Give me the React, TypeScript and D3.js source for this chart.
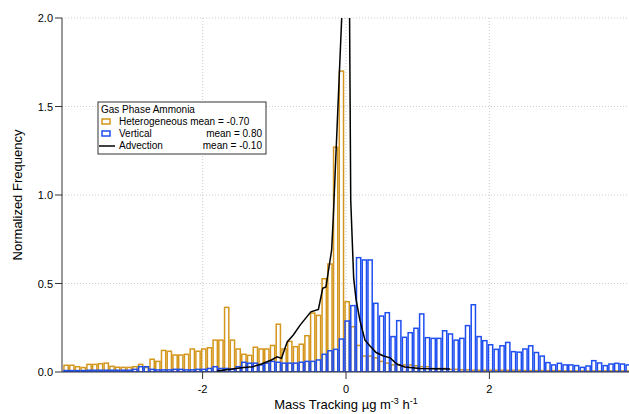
import React from "react";
import * as d3 from "d3";

const binStart = -3.944;
const binWidth = 0.08;
const hetero = [0.038,0.038,0.03,0.025,0.043,0.043,0.047,0.05,0.032,0.027,0.026,0.026,0.03,0.043,0.025,0.072,0.06,0.122,0.117,0.096,0.096,0.1,0.13,0.117,0.13,0.137,0.18,0.18,0.365,0.18,0.13,0.1,0.094,0.14,0.13,0.13,0.15,0.27,0.13,0.173,0.143,0.157,0.205,0.333,0.32,0.527,0.61,1.27,1.7,0.397,0.256,0.15,0.09,0.09,0.08,0.06,0.05,0.04,0.04,0.04,0.04,0.035,0.03,0.03,0.02,0.02,0.02,0.015,0.015,0.012,0.012,0.01,0.01,0.01,0.01,0.01,0.01,0.01,0.01,0.01,0.008,0.008,0.008,0.008,0.008,0.008,0.008,0.006,0.006,0.006,0.006,0.006,0.006,0.006,0.006,0.006,0.006,0.006,0.006];
const vertical = [0.008,0.008,0.008,0.008,0.01,0.01,0.01,0.01,0.01,0.01,0.01,0.01,0.015,0.03,0.03,0.015,0.012,0.012,0.012,0.015,0.015,0.012,0.012,0.015,0.015,0.02,0.03,0.02,0.02,0.015,0.03,0.055,0.05,0.05,0.04,0.05,0.06,0.055,0.05,0.05,0.05,0.055,0.06,0.06,0.068,0.1,0.12,0.128,0.186,0.288,0.375,0.646,0.633,0.633,0.388,0.316,0.335,0.2,0.29,0.196,0.222,0.247,0.328,0.194,0.19,0.19,0.233,0.215,0.18,0.19,0.262,0.38,0.2,0.177,0.154,0.128,0.148,0.167,0.115,0.112,0.13,0.148,0.11,0.09,0.053,0.04,0.049,0.04,0.04,0.036,0.026,0.034,0.064,0.051,0.036,0.045,0.049,0.045,0.04];
const advX = [-1.8,-1.43,-1.3,-1.18,-1.04,-0.96,-0.9,-0.82,-0.735,-0.64,-0.55,-0.49,-0.385,-0.325,-0.28,-0.2,-0.177,-0.06,0.0,0.05,0.066,0.107,0.14,0.195,0.265,0.335,0.42,0.515,0.615,0.71,0.82,1.03,1.45];
const advY = [0.005,0.026,0.03,0.045,0.068,0.086,0.077,0.17,0.209,0.265,0.31,0.34,0.354,0.473,0.48,0.69,0.877,2.0,2.6,2.0,0.97,0.53,0.41,0.29,0.18,0.147,0.11,0.092,0.08,0.045,0.028,0.02,0.017];
const xTicks = [-2, 0, 2];
const yTicks = [0, 0.5, 1, 1.5, 2];

const W = 629, H = 414;
const L = 62, R = 629, T = 18, B = 372;
const ORANGE = "#D4961C", BLUE = "#1F4FEF";
const font = "Liberation Sans, Arial, sans-serif";

export default function App() {
  const x = d3.scaleLinear().domain([(L - 346) / 71.7, (R - 346) / 71.7]).range([L, R]);
  const y = d3.scaleLinear().domain([0, 2]).range([B, T]);
  const line = d3.line<number>().x((_, i) => x(advX[i])).y((d) => y(d));
  const bars = (vals: number[], color: string) =>
    vals.map((v, i) => {
      const x0 = x(binStart + i * binWidth), x1 = x(binStart + (i + 1) * binWidth);
      return <rect key={i} x={x0 + 0.75} y={y(v)} width={x1 - x0 - 1.5} height={B - y(v)} fill="none" stroke={color} strokeWidth={1.5} />;
    });
  return (
    <svg width={W} height={H} style={{ position: "absolute", left: 0, top: 0 }} fontFamily={font}>
      <defs>
        <clipPath id="plot"><rect x={L} y={T} width={R - L} height={B - T} /></clipPath>
      </defs>
      <rect width={W} height={H} fill="#fff" />
      {xTicks.map((t) => <line key={t} x1={x(t)} x2={x(t)} y1={T} y2={B} stroke="#ccc" strokeDasharray="1,2" />)}
      {yTicks.slice(1).map((t) => <line key={t} x1={L} x2={R} y1={y(t)} y2={y(t)} stroke="#ccc" strokeDasharray="1,2" />)}
      <g clipPath="url(#plot)">
        {bars(hetero, ORANGE)}
        {bars(vertical, BLUE)}
        <path d={line(advY) || ""} fill="none" stroke="#000" strokeWidth={1.5} />
      </g>
      <line x1={L} x2={L} y1={T} y2={B} stroke="#333" />
      <line x1={L} x2={R} y1={B} y2={B} stroke="#333" />
      {yTicks.map((t) => (
        <g key={t}>
          <line x1={L - 7} x2={L} y1={y(t)} y2={y(t)} stroke="#333" />
          <text x={L - 9} y={y(t) + 4} fontSize={11} textAnchor="end">{t.toFixed(1)}</text>
        </g>
      ))}
      {xTicks.map((t) => (
        <g key={t}>
          <line x1={x(t)} x2={x(t)} y1={B} y2={B + 7} stroke="#333" />
          <text x={x(t)} y={B + 21} fontSize={11} textAnchor="middle">{t}</text>
        </g>
      ))}
      <text transform={`translate(22,${(T + B) / 2}) rotate(-90)`} fontSize={13} textAnchor="middle">Normalized Frequency</text>
      <text x={346} y={409} fontSize={13} textAnchor="middle">
        Mass Tracking µg m<tspan dy={-5} fontSize={9}>-3</tspan><tspan dy={5}> h</tspan><tspan dy={-5} fontSize={9}>-1</tspan>
      </text>
      <g fontSize={10}>
        <rect x={98} y={102} width={168} height={52} fill="#fff" stroke="#333" />
        <text x={101} y={113}>Gas Phase Ammonia</text>
        <rect x={102} y={119} width={8} height={5} fill="none" stroke={ORANGE} strokeWidth={1.5} />
        <text x={119} y={125}>Heterogeneous mean = -0.70</text>
        <rect x={102} y={131} width={8} height={5} fill="none" stroke={BLUE} strokeWidth={1.5} />
        <text x={119} y={137}>Vertical</text>
        <text x={262} y={137} textAnchor="end">mean = 0.80</text>
        <line x1={99} x2={115} y1={146} y2={146} stroke="#000" strokeWidth={1.5} />
        <text x={119} y={149}>Advection</text>
        <text x={262} y={149} textAnchor="end">mean = -0.10</text>
      </g>
    </svg>
  );
}
